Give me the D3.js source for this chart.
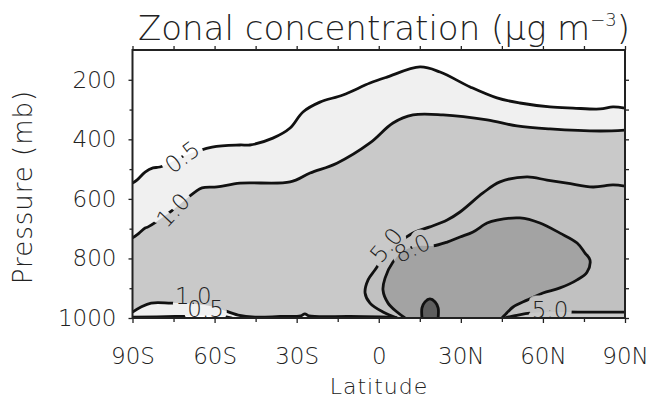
<!DOCTYPE html>
<html>
<head>
<meta charset="utf-8">
<script src="https://cdn.jsdelivr.net/npm/d3@7"></script>
<style>
  body { margin: 0; background: #fff; }
  svg { display: block; }
</style>
</head>
<body>
<div class="canvas"></div>
<script>
// contour lines, points are [latitude, pressure (mb)]
const line05Upper = [[-90,547],[-88.4,537],[-85.4,510],[-82.5,496],[-80,493],[-71.9,459],[-60.9,426],[-50.7,419],[-47.1,419],[-38.7,396],[-32.4,362],[-27.7,308],[-21.5,275],[-13.1,251],[-3.2,211],[3.0,191],[15.1,157],[22.4,174],[33.4,224],[43.2,261],[51.6,278],[62.6,291],[71.0,295],[80.9,298],[85.6,291],[90,295]];
const line05Lower = [[-90,997],[-74.5,995],[-63,992],[-57.3,994],[-53.6,1000]];
const line10Upper = [[-90,731],[-88.4,721],[-85.4,698],[-84.3,694],[-75.2,637],[-67.2,577],[-64.6,563],[-59.1,560],[-50.7,547],[-32.4,543],[-25.1,513],[-15.3,480],[-3.2,412],[5.2,345],[12.5,318],[23.5,318],[39.6,335],[50.5,355],[62.6,365],[80.9,372],[90,369]];
const line10Lower = [[-90,980],[-86.9,963],[-83.2,950],[-75.9,950],[-67.9,952],[-59.9,963],[-56.9,973],[-51.4,990],[-45.2,997],[-36,995],[-28.5,993],[-27,986],[-25.5,993],[-10.5,995],[4.1,997],[6.7,1000]];
const line50Upper = [[6.7,1000],[1.55,980],[-3.2,950],[-5.0,916],[-3.9,872],[-1.4,839],[3.75,772],[8.5,738],[13.25,711],[18.7,694],[25.0,671],[29.7,644],[38.1,580],[44.3,543],[54.2,526],[61.5,537],[68.8,547],[78.3,560],[85.6,553],[90,557]];
const line50Lower = [[46.1,1000],[50.9,990],[56,983],[62.6,980],[72.8,980],[90,980]];
const line80 = [[9.6,1000],[6.7,980],[3.4,950],[1.55,906],[2.3,866],[5.2,812],[9.6,772],[15.1,758],[19.8,758],[25.0,745],[29.7,728],[34.45,711],[39.6,681],[43.2,671],[51.6,664],[58.9,681],[66.25,715],[72.5,748],[75.4,782],[77.2,805],[76.1,846],[72.5,872],[66.25,899],[60.0,916],[54.2,940],[49.1,963],[46.1,990],[45.05,1000]];
const line100 = [[15.8,1000],[15.8,966],[16.9,946],[18.7,936],[20.6,946],[21.7,966],[21.7,1000]];

// contour labels: text, latitude, pressure
const contourLabels = [
  ["0.5", -71.9, 459],
  ["1.0", -75.2, 637],
  ["5.0", 2.7, 755],
  ["8.0", 12.2, 765],
  ["1.0", -67.8, 925],
  ["0.5", -63.3, 970],
  ["5.0", 62.6, 973]
];
const labelAngles = [-37, -47, -50, -25, 0, 0, 0];

const latMajor = [-90, -60, -30, 0, 30, 60, 90];
const latLabels = ["90S", "60S", "30S", "0", "30N", "60N", "90N"];
const latMinor = [-75, -45, -15, 15, 45, 75];
const pressMajor = [200, 400, 600, 800, 1000];
const pressMinor = [300, 500, 700, 900];

const font = "'DejaVu Sans Light', 'DejaVu Sans', sans-serif";
const ink = "#222";

const svg = d3.select('.canvas')
  .append('svg')
    .attr('width', 649)
    .attr('height', 400)
    .style('background-color', 'white');

const x = d3.scaleLinear().domain([-90, 90]).range([132.5, 625]);
const y = d3.scaleLinear().domain([100, 1000]).range([50, 318]);

const curve = d3.line()
  .x(d => x(d[0]))
  .y(d => y(d[1]))
  .curve(d3.curveCatmullRom.alpha(0.5));

// join curves and corner points into one closed area
function region(parts) {
  let d = '';
  parts.forEach((part, i) => {
    if (typeof part[0] === 'number') {
      d += (i ? 'L' : 'M') + x(part[0]) + ',' + y(part[1]);
    } else {
      const s = curve(part);
      d += i ? 'L' + s.slice(1) : s;
    }
  });
  return d + 'Z';
}

const defs = svg.append('defs');
defs.append('clipPath').attr('id', 'plot')
  .append('rect')
    .attr('x', x(-90)).attr('y', y(100))
    .attr('width', x(90) - x(-90)).attr('height', y(1000) - y(100));

function placeLabels(sel) {
  sel.attr('transform', (d, i) => `translate(${x(d[1])},${y(d[2])}) rotate(${labelAngles[i]})`)
    .attr('text-anchor', 'middle')
    .attr('dy', '0.36em')
    .style('font-family', font)
    .style('font-weight', 200)
    .style('font-size', '23px')
    .text(d => d[0]);
}

// mask that opens gaps in the lines where the labels sit
const mask = defs.append('mask').attr('id', 'gaps')
  .attr('maskUnits', 'userSpaceOnUse')
  .attr('x', 0).attr('y', 0).attr('width', 649).attr('height', 400);
mask.append('rect').attr('width', 649).attr('height', 400).attr('fill', 'white');
mask.selectAll('text')
  .data(contourLabels)
  .enter()
  .append('text')
    .call(placeLabels)
    .attr('fill', 'black')
    .attr('stroke', 'black')
    .attr('stroke-width', 11)
    .attr('stroke-linejoin', 'round');

const plot = svg.append('g').attr('clip-path', 'url(#plot)');

// shaded areas, lowest level first
plot.append('path')
  .attr('d', region([line05Upper, [90, 1000], line05Lower.slice().reverse()]))
  .attr('fill', '#f0f0f0');
plot.append('path')
  .attr('d', region([line10Upper, [90, 1000], line10Lower.slice().reverse()]))
  .attr('fill', '#c9c9c9');
plot.append('path')
  .attr('d', region([line50Upper, line50Lower.slice().reverse()]))
  .attr('fill', '#c1c1c1');
plot.append('path')
  .attr('d', region([line80]))
  .attr('fill', '#a3a3a3');
plot.append('path')
  .attr('d', region([line100]))
  .attr('fill', '#5e5e5e');

// contour lines
plot.append('g')
  .attr('mask', 'url(#gaps)')
  .selectAll('path')
  .data([line05Upper, line05Lower, line10Upper, line10Lower, line50Upper, line50Lower, line80, line100])
  .enter()
  .append('path')
    .attr('d', curve)
    .attr('fill', 'none')
    .attr('stroke', '#111')
    .attr('stroke-width', 2.8)
    .attr('stroke-linejoin', 'round');

// contour labels
svg.append('g')
  .selectAll('text')
  .data(contourLabels)
  .enter()
  .append('text')
    .call(placeLabels)
    .style('fill', ink);

// axes
function styleAxis(g) {
  g.select('.domain').remove();
  g.selectAll('line').attr('stroke', ink).attr('stroke-width', 1.3);
  g.selectAll('text')
    .style('font-family', font)
    .style('font-weight', 200)
    .style('font-size', '23px')
    .style('fill', ink);
}

svg.append('g')
  .attr('transform', `translate(0,${y(1000)})`)
  .call(d3.axisBottom(x).tickValues(latMajor).tickFormat((d, i) => latLabels[i]).tickSize(5).tickPadding(25))
  .call(styleAxis);
svg.append('g')
  .attr('transform', `translate(0,${y(1000)})`)
  .call(d3.axisBottom(x).tickValues(latMinor).tickFormat('').tickSize(4))
  .call(styleAxis);
svg.append('g')
  .attr('transform', `translate(0,${y(100)})`)
  .call(d3.axisTop(x).tickValues(latMajor.concat(latMinor)).tickFormat('').tickSize(4))
  .call(styleAxis);
svg.append('g')
  .attr('transform', `translate(${x(-90)},0)`)
  .call(d3.axisLeft(y).tickValues(pressMajor).tickFormat(d3.format('d')).tickSize(4).tickPadding(12))
  .call(styleAxis);
svg.append('g')
  .attr('transform', `translate(${x(-90)},0)`)
  .call(d3.axisLeft(y).tickValues(pressMinor).tickFormat('').tickSize(3))
  .call(styleAxis);
svg.append('g')
  .attr('transform', `translate(${x(90)},0)`)
  .call(d3.axisRight(y).tickValues(pressMajor.concat(pressMinor)).tickFormat('').tickSize(4))
  .call(styleAxis);

// frame
svg.append('rect')
  .attr('x', x(-90)).attr('y', y(100))
  .attr('width', x(90) - x(-90)).attr('height', y(1000) - y(100))
  .attr('fill', 'none')
  .attr('stroke', ink)
  .attr('stroke-width', 2);

// titles
const title = svg.append('text')
  .attr('x', 384)
  .attr('y', 40)
  .attr('text-anchor', 'middle')
  .style('font-family', font)
  .style('font-weight', 200)
  .style('font-size', '34px')
  .style('fill', ink);
title.append('tspan').text('Zonal concentration (\u03bcg m');
title.append('tspan').attr('dy', -14).style('font-size', '18px').text('\u22123');
title.append('tspan').attr('dy', 14).text(')');

svg.append('text')
  .attr('x', 379)
  .attr('y', 394)
  .attr('text-anchor', 'middle')
  .style('font-family', font)
  .style('font-weight', 200)
  .style('font-size', '22px')
  .style('letter-spacing', '1px')
  .style('fill', ink)
  .text('Latitude');

svg.append('text')
  .attr('transform', `translate(32,${(y(100) + y(1000)) / 2 + 3}) rotate(-90)`)
  .attr('text-anchor', 'middle')
  .style('font-family', font)
  .style('font-weight', 200)
  .style('font-size', '26px')
  .style('letter-spacing', '1px')
  .style('fill', ink)
  .text('Pressure (mb)');
</script>
</body>
</html>
